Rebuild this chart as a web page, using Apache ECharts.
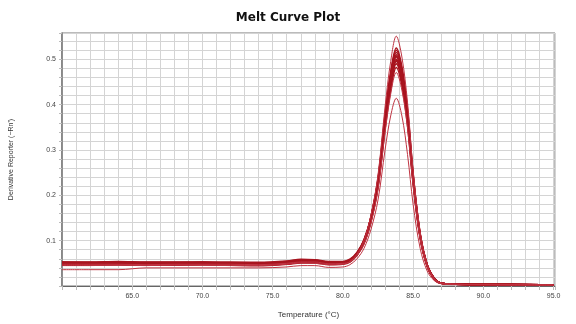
<!DOCTYPE html>
<html>
<head>
<meta charset="utf-8">
<script src="https://cdn.jsdelivr.net/npm/echarts@6/dist/echarts.min.js"></script>
<style>html,body{margin:0;padding:0;background:#fff}#c{width:576px;height:324px}</style>
</head>
<body>
<div id="c"></div>
<script>
var temps = [60,62,64,66,68,70,72,74,76,77,78,79,80,80.5,81,81.5,82,82.5,83,83.4,83.8,84.2,84.6,85,85.5,86,86.5,87,88,90,92,95];

var well01 = [0.045,0.045,0.046,0.045,0.046,0.046,0.045,0.045,0.048,0.051,0.050,0.047,0.048,0.054,0.070,0.100,0.157,0.245,0.395,0.495,0.551,0.505,0.405,0.255,0.120,0.048,0.017,0.007,0.004,0.003,0.003,0.002];
var well02 = [0.051,0.050,0.051,0.050,0.050,0.051,0.050,0.049,0.053,0.056,0.055,0.051,0.052,0.057,0.072,0.100,0.153,0.237,0.378,0.472,0.525,0.483,0.389,0.247,0.115,0.047,0.017,0.006,0.004,0.003,0.003,0.002];
var well03 = [0.050,0.049,0.049,0.048,0.049,0.049,0.049,0.048,0.051,0.055,0.054,0.050,0.051,0.056,0.071,0.099,0.151,0.234,0.373,0.467,0.520,0.478,0.385,0.244,0.114,0.047,0.017,0.006,0.004,0.003,0.003,0.002];
var well04 = [0.053,0.052,0.053,0.052,0.052,0.053,0.052,0.051,0.054,0.058,0.057,0.053,0.053,0.058,0.073,0.101,0.152,0.234,0.371,0.463,0.515,0.474,0.381,0.242,0.113,0.046,0.016,0.006,0.004,0.003,0.003,0.002];
var well05 = [0.048,0.048,0.048,0.047,0.048,0.048,0.047,0.047,0.050,0.053,0.052,0.049,0.050,0.055,0.070,0.098,0.149,0.230,0.366,0.459,0.510,0.469,0.377,0.240,0.112,0.046,0.016,0.006,0.004,0.003,0.003,0.002];
var well06 = [0.050,0.051,0.050,0.050,0.051,0.050,0.050,0.049,0.052,0.055,0.055,0.051,0.051,0.056,0.071,0.098,0.149,0.229,0.363,0.455,0.505,0.465,0.374,0.237,0.111,0.045,0.016,0.006,0.004,0.003,0.003,0.002];
var well07 = [0.047,0.047,0.047,0.046,0.047,0.047,0.047,0.046,0.049,0.052,0.052,0.048,0.049,0.054,0.069,0.096,0.146,0.225,0.358,0.449,0.500,0.460,0.370,0.235,0.110,0.045,0.016,0.006,0.004,0.003,0.003,0.002];
var well08 = [0.052,0.051,0.052,0.051,0.051,0.052,0.051,0.050,0.053,0.057,0.056,0.052,0.052,0.057,0.071,0.098,0.147,0.225,0.357,0.446,0.495,0.455,0.366,0.233,0.109,0.045,0.016,0.006,0.004,0.003,0.003,0.002];
var well09 = [0.049,0.049,0.050,0.049,0.049,0.049,0.049,0.048,0.051,0.054,0.054,0.050,0.050,0.055,0.069,0.095,0.144,0.221,0.352,0.440,0.490,0.451,0.363,0.230,0.108,0.044,0.016,0.006,0.004,0.003,0.003,0.002];
var well10 = [0.050,0.050,0.051,0.050,0.050,0.050,0.050,0.049,0.052,0.055,0.055,0.051,0.051,0.055,0.069,0.094,0.142,0.218,0.346,0.432,0.482,0.442,0.355,0.226,0.106,0.043,0.015,0.006,0.004,0.003,0.003,0.002];
var well11 = [0.046,0.046,0.047,0.046,0.046,0.047,0.046,0.045,0.048,0.051,0.051,0.047,0.048,0.053,0.068,0.095,0.145,0.223,0.355,0.445,0.497,0.457,0.368,0.234,0.109,0.044,0.016,0.006,0.004,0.003,0.003,0.002];
var well12 = [0.053,0.053,0.054,0.053,0.053,0.053,0.052,0.052,0.055,0.059,0.058,0.054,0.054,0.059,0.074,0.102,0.152,0.232,0.367,0.458,0.507,0.466,0.375,0.238,0.111,0.045,0.016,0.006,0.004,0.003,0.003,0.002];
var well13 = [0.048,0.048,0.048,0.047,0.048,0.048,0.048,0.047,0.050,0.053,0.053,0.049,0.050,0.053,0.067,0.092,0.139,0.213,0.338,0.423,0.471,0.432,0.348,0.221,0.103,0.042,0.015,0.006,0.004,0.003,0.003,0.002];
var well14 = [0.036,0.036,0.036,0.040,0.040,0.040,0.040,0.040,0.042,0.045,0.045,0.041,0.042,0.047,0.060,0.083,0.125,0.190,0.300,0.375,0.414,0.375,0.290,0.180,0.083,0.033,0.012,0.005,0.003,0.003,0.002,0.002];

var wells = [well01,well02,well03,well04,well05,well06,well07,well08,well09,well10,well11,well12,well13,well14];
var thinWells = [0,12,13];

var xTickLabels = ['65.0','70.0','75.0','80.0','85.0','90.0','95.0'];
var yTickLabels = ['0.1','0.2','0.3','0.4','0.5'];

var chart = echarts.init(document.getElementById('c'), null, {renderer:'canvas'});
var series = wells.map(function(w, i){
  var thin = thinWells.indexOf(i) >= 0;
  return {
    type:'line', smooth:0.35, symbol:'none',
    data: temps.map(function(t, k){ return [t, w[k]]; }),
    lineStyle:{color: thin ? '#bf3442' : '#a8141f', width: thin ? 1 : 1.6},
    z: thin ? 3 : 2
  };
});

chart.setOption({
  animation:false,
  backgroundColor:'#ffffff',
  title:{text:'Melt Curve Plot', left:'center', top:7,
    textStyle:{fontFamily:'DejaVu Sans', fontWeight:'bold', fontSize:12, color:'#111'}},
  grid:{left:57, right:21, top:33, bottom:37, show:true, borderColor:'#777', borderWidth:1},
  xAxis:{type:'value', min:60, max:95.1, interval:1,
    name:'Temperature (°C)', nameLocation:'middle', nameGap:25,
    nameTextStyle:{fontFamily:'Liberation Sans', fontSize:8, color:'#333'},
    axisLine:{lineStyle:{color:'#666', width:1}},
    axisTick:{show:true, length:4, lineStyle:{color:'#bbb'}},
    axisLabel:{fontFamily:'Liberation Sans', fontSize:7, color:'#444', margin:7,
      formatter:function(v){ var s = v.toFixed(1); return xTickLabels.indexOf(s) >= 0 && Math.abs(v - Math.round(v)) < 1e-6 ? s : ''; }},
    splitLine:{show:true, lineStyle:{color:'#d4d4d4', width:1}}
  },
  yAxis:{type:'value', min:0, max:0.558, interval:0.02,
    name:"Derivative Reporter (\u2212Rn')", nameLocation:'middle', nameGap:47,
    nameTextStyle:{fontFamily:'Liberation Sans', fontSize:7, color:'#333'},
    axisLine:{show:true, lineStyle:{color:'#777', width:1.5}},
    axisTick:{show:true, length:3, lineStyle:{color:'#bbb'}},
    axisLabel:{fontFamily:'Liberation Sans', fontSize:7, color:'#444', margin:6,
      formatter:function(v){ var s = v.toFixed(1); return (Math.abs(v*10 - Math.round(v*10)) < 1e-6 && yTickLabels.indexOf(s) >= 0) ? s : ''; }},
    splitLine:{show:true, lineStyle:{color:'#d4d4d4', width:1}}
  },
  series: series
});
</script>
</body>
</html>
